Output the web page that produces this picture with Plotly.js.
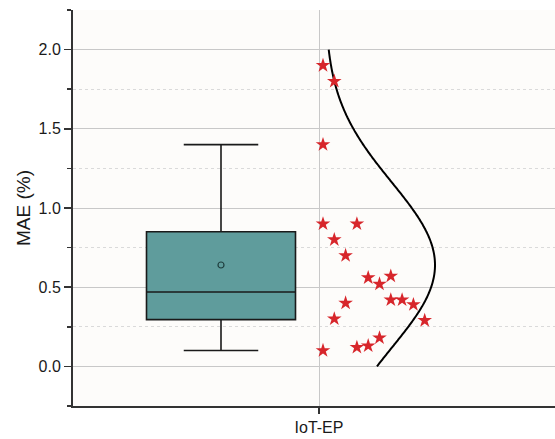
<!DOCTYPE html>
<html>
<head>
<meta charset="utf-8">
<script src="https://cdn.plot.ly/plotly-3.0.1.min.js"></script>
<style>
  html, body { margin: 0; padding: 0; background: #ffffff; }
  #chart { width: 555px; height: 439px; }
</style>
</head>
<body>
<div id="chart"></div>
<script>
// ---- data ----
const categories = ['IoT-EP'];
const maeValues = [1.90, 1.80, 1.40, 0.90, 0.90, 0.80, 0.70, 0.56, 0.52, 0.57,
                   0.42, 0.42, 0.39, 0.29, 0.40, 0.30, 0.10, 0.12, 0.13, 0.18];
const jitterSlot = [0, 1, 0, 0, 3, 1, 2, 4, 5, 6,
                    6, 7, 8, 9, 2, 1, 0, 3, 4, 5];
const yTickVals = [0, 0.5, 1.0, 1.5, 2.0];
const yTickText = ['0.0', '0.5', '1.0', '1.5', '2.0'];

// ---- layout helpers (positions in x-axis units around the category) ----
const catX = 0;
const boxOffset = -0.98, boxWidth = 1.49;
const starStart = 0.04, starStep = 0.113;
const curveBase = 0.06, curveHeight = 1.10;
const curveLow = 0, curveHigh = 2.0;

// statistics derived from the data
const n = maeValues.length;
const mean = maeValues.reduce((a, b) => a + b, 0) / n;
const sd = Math.sqrt(maeValues.reduce((a, b) => a + (b - mean) * (b - mean), 0) / (n - 1));

const curveY = [], curveX = [];
for (let i = 0; i <= 200; i++) {
  const y = curveLow + (curveHigh - curveLow) * i / 200;
  const z = (y - mean) / sd;
  curveY.push(y);
  curveX.push(catX + curveBase + curveHeight * Math.exp(-0.5 * z * z));
}

const boxTrace = {
  type: 'box',
  y: maeValues,
  x0: catX + boxOffset,
  width: boxWidth,
  quartilemethod: 'exclusive',
  boxpoints: 'outliers',
  marker: { opacity: 0 },
  fillcolor: '#5f9c9c',
  line: { color: '#1a1a1a', width: 1.6 },
  whiskerwidth: 0.5,
  showlegend: false,
  hoverinfo: 'y'
};

const meanTrace = {
  type: 'scatter', mode: 'markers',
  x: [catX + boxOffset], y: [mean],
  marker: { symbol: 'circle-open', size: 6, color: '#1f3f3f', line: { width: 1.2 } },
  showlegend: false
};

const starTrace = {
  type: 'scatter', mode: 'markers',
  x: jitterSlot.map(s => catX + starStart + starStep * s),
  y: maeValues,
  marker: { symbol: 'star', size: 11, color: '#d7262b', line: { width: 0 } },
  showlegend: false
};

const curveTrace = {
  type: 'scatter', mode: 'lines',
  x: curveX, y: curveY,
  line: { color: '#000000', width: 2, shape: 'spline' },
  showlegend: false, hoverinfo: 'skip'
};

const layout = {
  width: 555, height: 439,
  margin: { l: 73, r: 0, t: 10, b: 33 },
  paper_bgcolor: '#ffffff',
  plot_bgcolor: '#fdfcfa',
  font: { family: 'Liberation Sans, Arial, sans-serif', color: '#1a1a1a' },
  xaxis: {
    range: [-2.46, 2.36],
    tickmode: 'array', tickvals: [catX], ticktext: categories,
    showgrid: true, gridcolor: '#c8c8c8', gridwidth: 1,
    zeroline: false,
    showline: true, linecolor: '#333333', linewidth: 2,
    ticks: 'outside', ticklen: 6, tickwidth: 1.5, tickcolor: '#333333',
    tickfont: { size: 16, color: '#1a1a1a' }
  },
  yaxis: {
    range: [-0.25, 2.25],
    tickmode: 'array', tickvals: yTickVals, ticktext: yTickText,
    showgrid: true, gridcolor: '#c8c8c8', gridwidth: 1,
    minor: { tickmode: 'linear', tick0: 0, dtick: 0.25, showgrid: true, griddash: 'dot', gridcolor: '#dadada', gridwidth: 1,
             ticks: 'outside', ticklen: 4, tickwidth: 1.5, tickcolor: '#333333' },
    zeroline: false,
    showline: true, linecolor: '#333333', linewidth: 2,
    ticks: 'outside', ticklen: 7, tickwidth: 1.5, tickcolor: '#333333',
    tickfont: { size: 16, color: '#1a1a1a' },
    title: { text: 'MAE (%)', font: { size: 19, color: '#1a1a1a' }, standoff: 3 }
  }
};

Plotly.newPlot('chart', [boxTrace, curveTrace, starTrace, meanTrace], layout, { displayModeBar: false, staticPlot: true });
</script>
</body>
</html>
